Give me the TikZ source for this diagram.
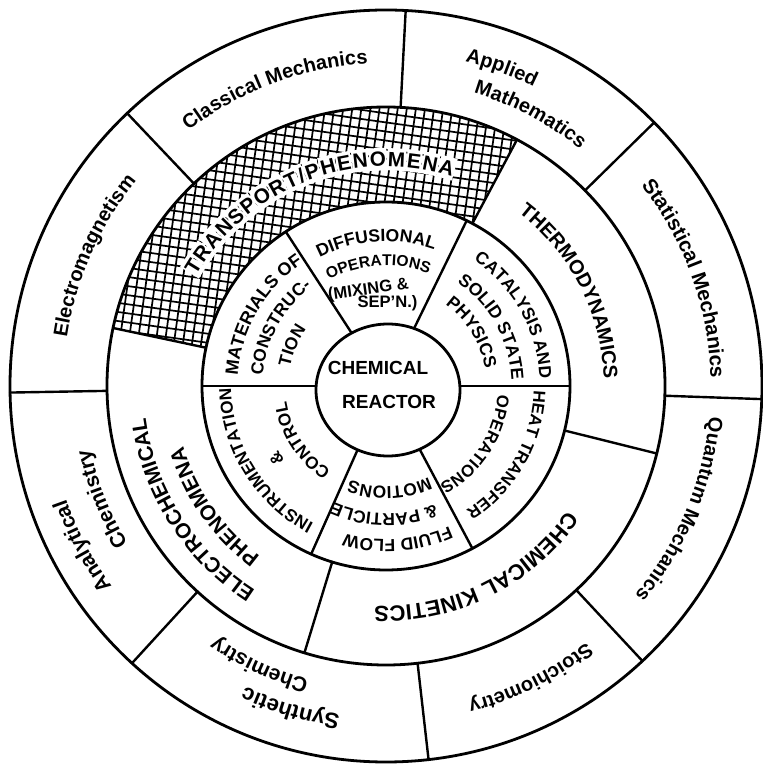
\documentclass[tikz,border=0pt]{standalone}
\usepackage{fontspec}
\setsansfont{Liberation Sans}
\usepackage{tikz}
\usetikzlibrary{decorations.text}
\newcommand{\labfont}[1]{\sffamily\bfseries\fontsize{#1}{#1}\selectfont}
\newcommand{\arclabel}[4]{\path[decorate, decoration={text along path, text align=center, text={|\labfont{#1}|#4}}] ({#2+60}:{#3-0.72*#1}) arc[start angle={#2+60}, end angle={#2-60}, radius={#3-0.72*#1}];}
\tikzstyle{wheel}=[x=0.5pt, y=0.5pt, line cap=round]
\tikzstyle{ring}=[line width=1.4pt]
\tikzstyle{spoke}=[line width=1.2pt]
\tikzstyle{hatch}=[line width=0.85pt]
\tikzstyle{core}=[inner sep=0pt, font=\labfont{9.5}]
\tikzstyle{mix}=[inner sep=0pt, font=\labfont{8.3}]

\begin{document}
\begin{tikzpicture}[wheel]
	\useasboundingbox (-386,-378) rectangle (377,386);
	\begin{scope}
		\clip (62:184) arc[start angle=62, end angle=168, radius=184] -- (168:279) arc[start angle=168, end angle=62, radius=279] -- cycle;
		\draw[hatch, rotate=-8] (-320,-60) grid[step=9] (200,320);
	\end{scope}
	\draw[ring] (0,0) circle[radius=376];
	\draw[ring] (0,0) circle[radius=279];
	\draw[ring] (0,0) circle[radius=184];
	\draw[spoke] (87:279) -- (87:376);
	\draw[spoke] (44.5:279) -- (44.5:376);
	\draw[spoke] (-2:279) -- (-2:376);
	\draw[spoke] (-47:279) -- (-47:376);
	\draw[spoke] (-83.5:279) -- (-83.5:376);
	\draw[spoke] (227.5:279) -- (227.5:376);
	\draw[spoke] (181:279) -- (181:376);
	\draw[spoke] (133.5:279) -- (133.5:376);
	\draw[spoke] (62:184) -- (62:279);
	\draw[spoke] (168:184) -- (168:279);
	\draw[spoke] (253:184) -- (253:279);
	\draw[spoke] (-14:184) -- (-14:279);
	\draw[spoke] (0:55) -- (0:184);
	\draw[spoke] (64:55) -- (64:184);
	\draw[spoke] (123:55) -- (123:184);
	\draw[spoke] (180:55) -- (180:184);
	\draw[spoke] (246:55) -- (246:184);
	\draw[spoke] (298:55) -- (298:184);
	\draw[ring, fill=white] (2,-4) ellipse[x radius=72, y radius=66];
	\node[core] (chemical) at (-8,18) {CHEMICAL};
	\node[core] (reactor) at (3,-16) {REACTOR};
	\arclabel{10}{110.5}{330}{Classical Mechanics}
	\arclabel{10}{70}{341}{Applied}
	\arclabel{10}{62}{313}{Mathematics}
	\arclabel{10.3}{19.8}{332}{Statistical Mechanics}
	\arclabel{10}{-22.7}{332}{Quantum Mechanics}
	\arclabel{10}{-63.7}{333}{Stoichiometry}
	\arclabel{11}{-106.5}{340}{Synthetic}
	\arclabel{10.5}{-114.4}{311}{Chemistry}
	\arclabel{10.5}{207.8}{347}{Analytical}
	\arclabel{10.5}{201.7}{310}{Chemistry}
	\arclabel{10}{156}{330}{Electromagnetism}
	\path[decorate, decoration={text effects along path, text={TRANSPORT/PHENOMENA}, text align=center, text effects/.cd, text along path, characters={font=\labfont{10.3}, fill=white, inner xsep=0.4pt, inner ysep=2pt}}] (171.2:219.6) arc[start angle=171.2, end angle=51.2, radius=219.6];
	\arclabel{10}{27.2}{225}{THERMODYNAMICS}
	\arclabel{11}{-63.7}{228}{CHEMICAL KINETICS}
	\arclabel{10.5}{212.5}{250}{ELECTROCHEMICAL}
	\arclabel{10.5}{215}{219}{PHENOMENA}
	\arclabel{8.8}{93.9}{151}{DIFFUSIONAL}
	\arclabel{7.8}{93.7}{126}{OPERATIONS}
	\node[mix, rotate=8] (mixing) at (-17.5,96) {(MIXING \&};
	\node[mix] (sepn) at (1.5,83) {SEP'N.)};
	\arclabel{9}{150}{155}{MATERIALS OF}
	\arclabel{8.7}{151}{130}{CONSTRUC-}
	\arclabel{8.7}{156.7}{104}{TION}
	\arclabel{8.7}{29}{160}{CATALYSIS AND}
	\arclabel{8.8}{29}{132}{SOLID STATE}
	\arclabel{8.8}{32}{107}{PHYSICS}
	\arclabel{8.5}{-29.5}{154}{HEAT TRANSFER}
	\arclabel{8.4}{-33}{118}{OPERATIONS}
	\arclabel{8.7}{-85.7}{160}{FLUID FLOW}
	\arclabel{8.7}{-90.8}{134}{{\&} PARTICLE}
	\arclabel{8.7}{-88}{107}{MOTIONS}
	\arclabel{8.6}{211.5}{161}{INSTRUMENTATION}
	\arclabel{8.6}{213.6}{132}{{\&}}
	\arclabel{8.6}{212.8}{107}{CONTROL}
\end{tikzpicture}
\end{document}
